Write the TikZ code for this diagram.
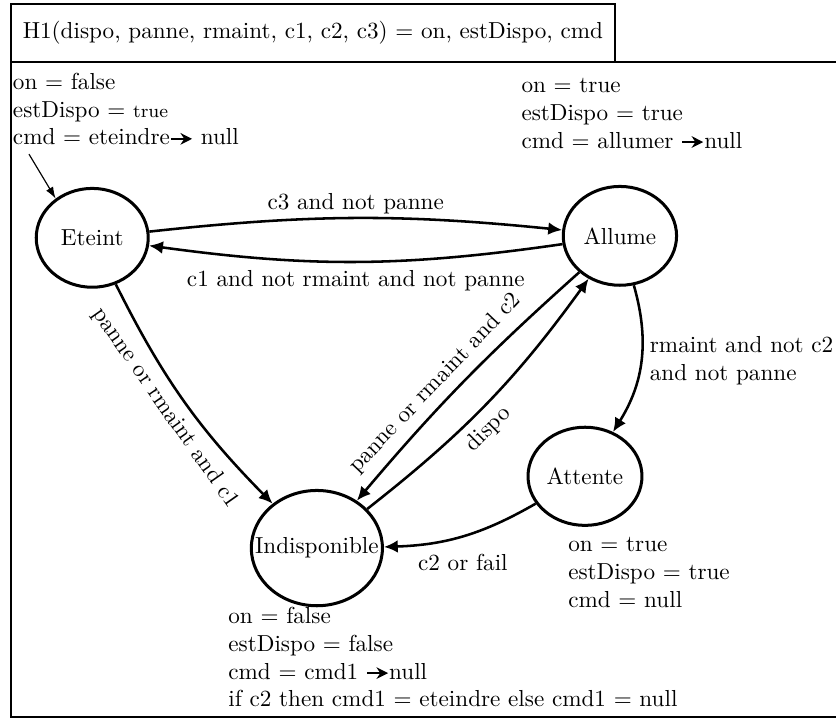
\documentclass[tikz,border=0pt]{standalone}
\usepackage{tikz}
\usetikzlibrary{shapes.geometric, arrows.meta}
\tikzstyle{etat} = [ellipse, draw, line width=1.3pt, inner sep=0pt]
\tikzstyle{trans} = [line width=1.1pt, -{Latex[length=6pt,width=5.5pt]}]
\tikzstyle{annot} = [anchor=north west, inner sep=0pt, align=left]
\newcommand{\fleche}{\tikz[baseline=-0.6ex]\draw[line width=0.9pt, -{Stealth[length=5pt,width=5pt]}] (0,0) -- (0.32,0);}

\begin{document}
\begin{tikzpicture}
        \useasboundingbox (0,0) rectangle (12.69,10.90);
        % cadre
        \node[draw, line width=0.8pt, minimum width=9.17cm, minimum height=0.88cm] (titre) at (4.75,10.40) {H1(dispo, panne, rmaint, c1, c2, c3) $=$ on, estDispo, cmd};
        \draw[line width=0.8pt] (12.69,9.96) -- (0.17,9.96) -- (0.17,0.02) -- (12.69,0.02);

        % etats
        \node[etat, minimum width=1.70cm, minimum height=1.50cm] (Eteint) at (1.40,7.29) {Eteint};
        \node[etat, minimum width=1.72cm, minimum height=1.50cm] (Allume) at (9.41,7.32) {Allume};
        \node[etat, minimum width=1.73cm, minimum height=1.49cm] (Attente) at (8.88,3.67) {Attente};
        \node[etat, minimum width=1.99cm, minimum height=1.75cm] (Indispo) at (4.81,2.58) {\makebox[0pt]{Indisponible}};

        % valeurs des sorties
        \node[annot] (annEteint) at (0.19,9.80) {on $=$ false\\estDispo $=$ {\footnotesize true}\\cmd $=$ eteindre\fleche\ null};
        \node[annot] (annAllume) at (7.91,9.72) {on $=$ true\\estDispo $=$ true\\cmd $=$ allumer \fleche null};
        \node[annot] (annAttente) at (8.62,2.75) {on $=$ true\\estDispo $=$ true\\cmd $=$ null};
        \node[annot] (annIndispo) at (3.46,1.69) {on $=$ false\\estDispo $=$ false\\cmd $=$ cmd1 \fleche null\\if c2 then cmd1 $=$ eteindre else cmd1 $=$ null};

        % transitions
        \coordinate (init) at (0.44,8.56);
        \draw[line width=0.5pt, -{Latex[length=5pt,width=3.5pt]}] (init) -- (Eteint.133);
        \draw[trans] (Eteint) to[bend left=6] node[above=-2pt] {c3 and not panne} (Allume);
        \draw[trans] (Allume) to[bend left=8] node[below] {c1 and not rmaint and not panne} (Eteint);
        \draw[trans] (Eteint) to[bend right=9] node[pos=0.48, below, sloped] {panne or rmaint and c1} (Indispo);
        \draw[trans] (Allume) to[bend right=4] node[pos=0.57, above, sloped] {panne or rmaint and c2} (Indispo);
        \draw[trans] (Indispo) to[bend right=8] node[pos=0.44, below, sloped] {dispo} (Allume);
        \draw[trans] (Allume) to[bend left=24] node[right, align=left] {rmaint and not c2\\and not panne} (Attente);
        \draw[trans] (Attente) to[bend left=14] node[below=4pt] {c2 or fail} (Indispo);
\end{tikzpicture}
\end{document}
